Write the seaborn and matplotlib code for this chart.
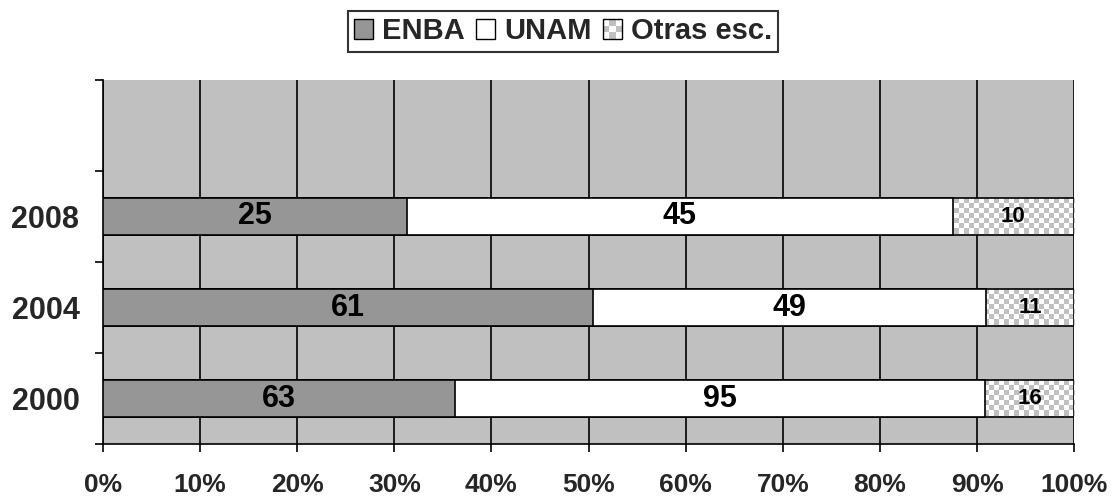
import numpy as np
import pandas as pd
import matplotlib
matplotlib.use('Agg')
import matplotlib.pyplot as plt
import seaborn as sns
from matplotlib.patches import Rectangle, Patch
from matplotlib.legend_handler import HandlerBase
from matplotlib.ticker import PercentFormatter

# data
years = ['2008', '2004', '2000']
enba = [25, 61, 63]
unam = [45, 49, 95]
otras = [10, 11, 16]
series = ['ENBA', 'UNAM', 'Otras esc.']
slots = [' '] + years          # empty slot on top, as in the original

df = pd.DataFrame({'Año': years, 'ENBA': enba, 'UNAM': unam, 'Otras esc.': otras})
pct = df[series].div(df[series].sum(axis=1), axis=0) * 100
cum = pct.cumsum(axis=1)
cum['Año'] = years

gray_bg = '#C0C0C0'
enba_col = '#969696'

sns.set_theme(style='white')
plt.rcParams['font.family'] = ['Liberation Sans', 'DejaVu Sans']
plt.rcParams['font.weight'] = 'bold'

fig = plt.figure(figsize=(11.15, 4.99), dpi=100)
ax = fig.add_axes([0.0924, 0.1102, 0.871, 0.7295])
ax.set_facecolor(gray_bg)

# stacked by overlay: total first, then ENBA+UNAM, then ENBA
sns.barplot(data=cum, x='Otras esc.', y='Año', order=slots, color='white',
            saturation=1, edgecolor='black', linewidth=1.2, width=0.4,
            errorbar=None, ax=ax, zorder=2)
otras_bars = list(ax.patches)
ax.set_xlim(0, 100)
ax.set_ylim(len(slots) - 0.5, -0.5)

# checker fill for "Otras esc."
cell = 5.0  # px
sx = ax.transData.transform((1, 0))[0] - ax.transData.transform((0, 0))[0]
sy = abs(ax.transData.transform((0, 1))[1] - ax.transData.transform((0, 0))[1])
for p in otras_bars:
    x0, y0, w, h = p.get_x(), p.get_y(), p.get_width(), p.get_height()
    nx = int(np.ceil(w * sx / cell))
    ny = int(np.ceil(h * sy / cell))
    board = (np.add.outer(np.arange(ny), np.arange(nx)) % 2).astype(float)
    im = ax.imshow(board, cmap=matplotlib.colors.ListedColormap([gray_bg, 'white']),
                   extent=(x0, x0 + nx * cell / sx, y0 + ny * cell / sy, y0),
                   aspect='auto', interpolation='nearest', zorder=1.5)
    im.set_clip_path(p)
    p.set_facecolor('none')

sns.barplot(data=cum, x='UNAM', y='Año', order=slots, color='white',
            saturation=1, edgecolor='black', linewidth=1.2, width=0.4,
            errorbar=None, ax=ax, zorder=3)
sns.barplot(data=cum, x='ENBA', y='Año', order=slots, color=enba_col,
            saturation=1, edgecolor='black', linewidth=1.2, width=0.4,
            errorbar=None, ax=ax, zorder=4)

# value labels
for i, yr in enumerate(years):
    yi = slots.index(yr)
    left = 0
    for s in series:
        w = pct.loc[i, s]
        fs = 16 if s == 'Otras esc.' else 22
        ax.text(left + w / 2, yi, str(df.loc[i, s]), ha='center', va='center',
                fontsize=fs, fontweight='bold', color='black', zorder=5)
        left += w

ax.set_xlim(0, 100)
ax.set_ylim(len(slots) - 0.5, -0.5)
ax.set_xlabel('')
ax.set_ylabel('')

# x axis
ax.set_xticks(np.arange(0, 101, 10))
ax.xaxis.set_major_formatter(PercentFormatter(decimals=0))
ax.tick_params(axis='x', bottom=True, direction='out', length=6, width=1.2,
               color='black', labelsize=19, pad=15)
ax.grid(True, axis='x', color='black', linewidth=1.2)
ax.grid(False, axis='y')
ax.set_axisbelow(True)

# y axis: ticks at slot boundaries, labels at centres
ax.set_yticks(np.arange(-0.5, len(slots), 1.0))
ax.set_yticklabels([])
ax.set_yticks([slots.index(y) for y in years], minor=True)
ax.set_yticklabels(years, minor=True)
ax.tick_params(axis='y', which='major', left=True, direction='out', length=6,
               width=1.2, color='black')
ax.tick_params(axis='y', which='minor', left=True, length=0, labelsize=22, pad=17)

for s in ['top', 'right']:
    ax.spines[s].set_visible(False)
for s in ['left', 'bottom']:
    ax.spines[s].set_color('black')
    ax.spines[s].set_linewidth(1.2)


class CheckerHandler(HandlerBase):
    def create_artists(self, legend, orig_handle, xdescent, ydescent,
                       width, height, fontsize, trans):
        arts = []
        n = 3
        cw, ch = width / n, height / n
        for i in range(n):
            for j in range(n):
                c = 'white' if (i + j) % 2 == 0 else gray_bg
                arts.append(Rectangle((-xdescent + i * cw, -ydescent + j * ch), cw, ch,
                                      facecolor=c, edgecolor='none', transform=trans))
        arts.append(Rectangle((-xdescent, -ydescent), width, height, facecolor='none',
                              edgecolor='black', lw=1, transform=trans))
        return arts


handles = [Patch(facecolor=enba_col, edgecolor='black'),
           Patch(facecolor='white', edgecolor='black'),
           Patch(facecolor='white', edgecolor='black')]
leg = fig.legend(handles, series, loc='upper center', bbox_to_anchor=(0.505, 1 - 11 / 499),
                 ncol=3, fontsize=21, frameon=True, fancybox=False,
                 handlelength=0.65, handleheight=0.65, handletextpad=0.3,
                 columnspacing=0.4, borderpad=0.22, borderaxespad=0,
                 handler_map={handles[2]: CheckerHandler()})
leg.get_frame().set_edgecolor('black')
leg.get_frame().set_linewidth(1.5)
for t in leg.get_texts():
    t.set_fontweight('bold')

fig.savefig('out.png', dpi=100, facecolor='white')
